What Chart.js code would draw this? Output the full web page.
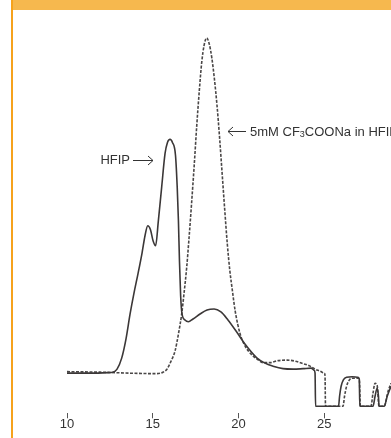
<!DOCTYPE html>
<html>
<head>
<meta charset="utf-8">
<script src="https://cdn.jsdelivr.net/npm/chart.js@4.4.1/dist/chart.umd.min.js"></script>
<style>
  html, body { margin: 0; padding: 0; background: #fff; overflow: hidden; }
  #wrap { position: relative; width: 391px; height: 438px; }
  #chart { position: absolute; left: 0; top: 0; }
  #header { position: absolute; left: 12px; right: 0; top: 0; height: 10px; background: #f6b84e; }
  #edge { position: absolute; left: 11px; top: 0; width: 2px; height: 438px; background: #f6a21c; }
</style>
</head>
<body>
<div id="wrap">
  <canvas id="chart" width="391" height="438"></canvas>
  <div id="header"></div>
  <div id="edge"></div>
</div>
<script>
// elution volume (mL) and detector response
const hfipX = [10, 11.34, 12.39, 12.68, 12.92, 13.19, 13.44, 13.68, 13.91, 14.14, 14.38, 14.55, 14.71, 14.87, 15.02, 15.17,
  15.33, 15.52, 15.72, 15.86, 16.01, 16.15, 16.33, 16.43, 16.5, 16.56, 16.63, 16.71, 16.88, 17.08, 17.35, 17.76, 18.17,
  18.58, 18.98, 19.39, 19.9, 20.38, 21.07, 21.55, 22.02, 22.6, 23.19, 23.77, 24.24, 24.41, 24.47, 24.5, 25.75, 25.84,
  25.9, 25.99, 26.13, 26.31, 26.63, 26.98, 27.05, 27.08, 27.85, 27.97, 28.09, 28.17, 28.2, 28.5, 28.68, 28.9];
const hfipY = [33, 33, 33.5, 34, 37, 48, 67, 92, 113, 132, 153, 170, 180, 176, 165, 160,
  185, 218, 252, 263, 266, 263, 250, 218, 185, 145, 110, 92, 86, 84.3, 87, 92, 96,
  97, 94, 86, 74, 62, 48.3, 43, 40, 37.5, 37, 37.5, 38, 36, 33, 0, 0, 0,
  10, 20, 26.5, 29, 29.5, 29, 27, 0, 0, 10, 18, 10, 0, 0, 10, 20];

const saltX = [10, 11.93, 13.68, 15.25, 15.6, 15.83, 16.07, 16.3, 16.5, 16.69, 16.83, 16.98, 17.12, 17.27, 17.42, 17.57,
  17.72, 17.86, 18.0, 18.15, 18.3, 18.45, 18.6, 18.75, 18.9, 19.05, 19.2, 19.35, 19.5, 19.65, 19.81, 20.1,
  20.39, 20.74, 21.09, 21.44, 21.84, 22.31, 22.84, 23.3, 23.77, 24.18, 24.47, 24.76, 25.0, 25.05, 25.08, 26.1, 26.19,
  26.31, 26.48, 26.69, 26.98, 27.06, 27.11, 27.73, 27.85, 27.97, 28.09, 28.2, 28.5, 28.73, 28.9];
const saltY = [34.5, 34, 33, 32.5, 34, 37, 45, 55, 72, 92, 113, 138, 168, 203, 240, 280,
  315, 343, 360, 367, 361, 347, 326, 300, 268, 232, 196, 162, 135, 115, 95, 72,
  60, 52, 47, 43.5, 43.5, 45.5, 46, 45, 42.5, 40, 37, 35, 33, 31, 0, 0, 10,
  20, 26.5, 28, 28, 25, 0, 0, 13, 23, 21, 0, 0, 15, 23];

const tickValues = [10, 15, 20, 25];

const toPoints = (xs, ys) => xs.map((x, i) => ({ x: x, y: ys[i] }));

const labelsPlugin = {
  id: "labels",
  afterDraw(chart) {
    const ctx = chart.ctx;
    ctx.save();
    ctx.fillStyle = "#333";
    ctx.strokeStyle = "#333";
    ctx.lineWidth = 1;
    ctx.textBaseline = "middle";
    ctx.font = "13px 'Liberation Sans', Arial, sans-serif";

    // HFIP ->
    ctx.textAlign = "right";
    ctx.fillText("HFIP", 130, 160);
    ctx.beginPath();
    ctx.moveTo(133, 160.5); ctx.lineTo(153, 160.5);
    ctx.moveTo(148, 156); ctx.lineTo(153, 160.5); ctx.lineTo(148, 165);
    ctx.stroke();

    // <- 5mM CF3COONa in HFIP
    ctx.beginPath();
    ctx.moveTo(228, 131.5); ctx.lineTo(246, 131.5);
    ctx.moveTo(233, 127); ctx.lineTo(228, 131.5); ctx.lineTo(233, 136);
    ctx.stroke();
    ctx.textAlign = "left";
    let x = 250;
    ctx.fillText("5mM CF", x, 132);
    x += ctx.measureText("5mM CF").width;
    ctx.font = "9px 'Liberation Sans', Arial, sans-serif";
    ctx.fillText("3", x, 135);
    x += ctx.measureText("3").width;
    ctx.font = "13px 'Liberation Sans', Arial, sans-serif";
    ctx.fillText("COONa in HFIP", x, 132);
    ctx.restore();
  }
};

new Chart(document.getElementById("chart"), {
  type: "line",
  data: {
    datasets: [
      {
        label: "HFIP",
        data: toPoints(hfipX, hfipY),
        borderColor: "#3b3737",
        borderWidth: 1.6,
        pointRadius: 0,
        cubicInterpolationMode: "monotone",
        fill: false
      },
      {
        label: "5mM CF3COONa in HFIP",
        data: toPoints(saltX, saltY),
        borderColor: "#4a4747",
        borderWidth: 1.6,
        borderDash: [3, 1.5],
        pointRadius: 0,
        cubicInterpolationMode: "monotone",
        fill: false
      }
    ]
  },
  options: {
    responsive: false,
    animation: false,
    layout: { padding: { left: 67, right: 0, top: 20, bottom: 8 } },
    plugins: { legend: { display: false }, tooltip: { enabled: false } },
    scales: {
      x: {
        type: "linear",
        min: 10,
        max: 28.9,
        afterBuildTicks: scale => { scale.ticks = tickValues.map(v => ({ value: v })); },
        grid: { drawOnChartArea: false, drawTicks: true, tickLength: 5, color: "#555", tickWidth: 1 },
        border: { display: false },
        ticks: { padding: 0, color: "#333", font: { size: 13, lineHeight: 0.9, family: "'Liberation Sans', Arial, sans-serif" }, maxRotation: 0 }
      },
      y: {
        display: false,
        min: -7,
        max: 385
      }
    }
  },
  plugins: [labelsPlugin]
});
</script>
</body>
</html>
